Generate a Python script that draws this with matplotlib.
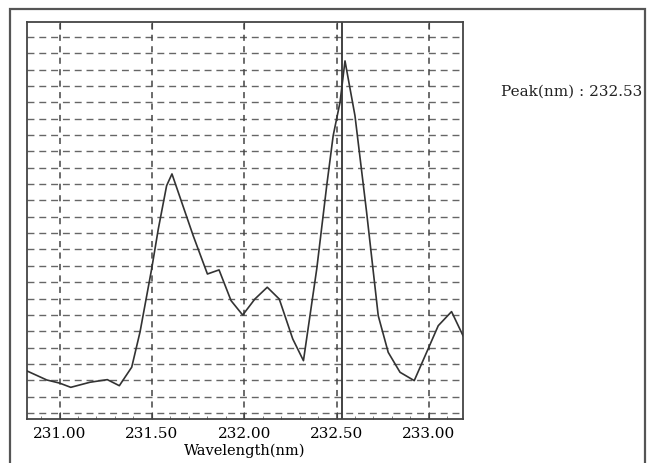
import matplotlib.pyplot as plt
from matplotlib.patches import Rectangle

# Spectrum (x in nm, y in grid divisions)
wavelength = [230.824, 230.931, 231.000, 231.061, 231.165, 231.259, 231.324, 231.391,
              231.436, 231.499, 231.535, 231.580, 231.609, 231.724, 231.801, 231.864,
              231.929, 231.992, 232.058, 232.125, 232.190, 232.263, 232.321, 232.393,
              232.447, 232.482, 232.519, 232.546, 232.600, 232.663, 232.726, 232.780,
              232.844, 232.921, 232.988, 233.051, 233.123, 233.185]
intensity = [2.57, 2.02, 1.83, 1.57, 1.88, 2.04, 1.67, 2.80,
             4.95, 8.81, 11.25, 13.90, 14.62, 10.84, 8.50, 8.75,
             6.87, 5.99, 6.97, 7.69, 6.97, 4.53, 3.20, 8.81,
             13.90, 16.96, 19.00, 21.53, 18.18, 12.28, 5.95, 3.71,
             2.49, 1.98, 3.71, 5.34, 6.20, 4.73]

x_ticks = [231.00, 231.50, 232.00, 232.50, 233.00]
x_tick_labels = ['231.00', '231.50', '232.00', '232.50', '233.00']
peak_nm = 232.53
h_grid = list(range(24))


def draw_spectrum():
    fig = plt.figure(figsize=(6.49, 4.64), dpi=100)
    plt.rcParams['font.family'] = ['DejaVu Serif']

    # scanned page frame
    fig.patches.append(Rectangle((10 / 649, -0.2), 635 / 649, 1.2 - 10 / 464,
                                 transform=fig.transFigure, fill=False,
                                 edgecolor='#555555', linewidth=1.6))

    ax = fig.add_axes([27 / 649, 44 / 464, 436 / 649, 397 / 464])
    ax.set_xlim(230.824, 233.185)
    ax.set_ylim(-0.367, 23.91)

    # grid
    for g in h_grid:
        ax.axhline(g, color='#666666', linewidth=1.0, linestyle=(0, (5, 3.5)), zorder=1)
    for t in x_ticks:
        ax.axvline(t, color='#444444', linewidth=1.1, linestyle=(0, (4, 3.5)), zorder=1)

    ax.plot(wavelength, intensity, color='#333333', linewidth=1.2, zorder=3)
    ax.axvline(peak_nm, color='#222222', linewidth=1.2, zorder=2)

    ax.set_xticks(x_ticks)
    ax.set_xticklabels(x_tick_labels, fontsize=11)
    ax.set_xticks([t / 10 for t in range(2309, 2332)], minor=True)
    ax.tick_params(axis='x', which='major', direction='in', length=5, top=True,
                   pad=5, color='#444444')
    ax.tick_params(axis='x', which='minor', direction='in', length=2.5,
                   color='#666666')
    ax.set_yticks([])
    ax.set_xlabel('Wavelength(nm)', fontsize=10.5, labelpad=2)

    for s in ax.spines.values():
        s.set_color('#444444')
        s.set_linewidth(1.3)

    fig.text(501 / 649, 1 - 92 / 464, 'Peak(nm) : 232.53', fontsize=11,
             va='center', ha='left', color='#222222')

    fig.savefig('out.png', dpi=100)


if __name__ == "__main__":
    draw_spectrum()
